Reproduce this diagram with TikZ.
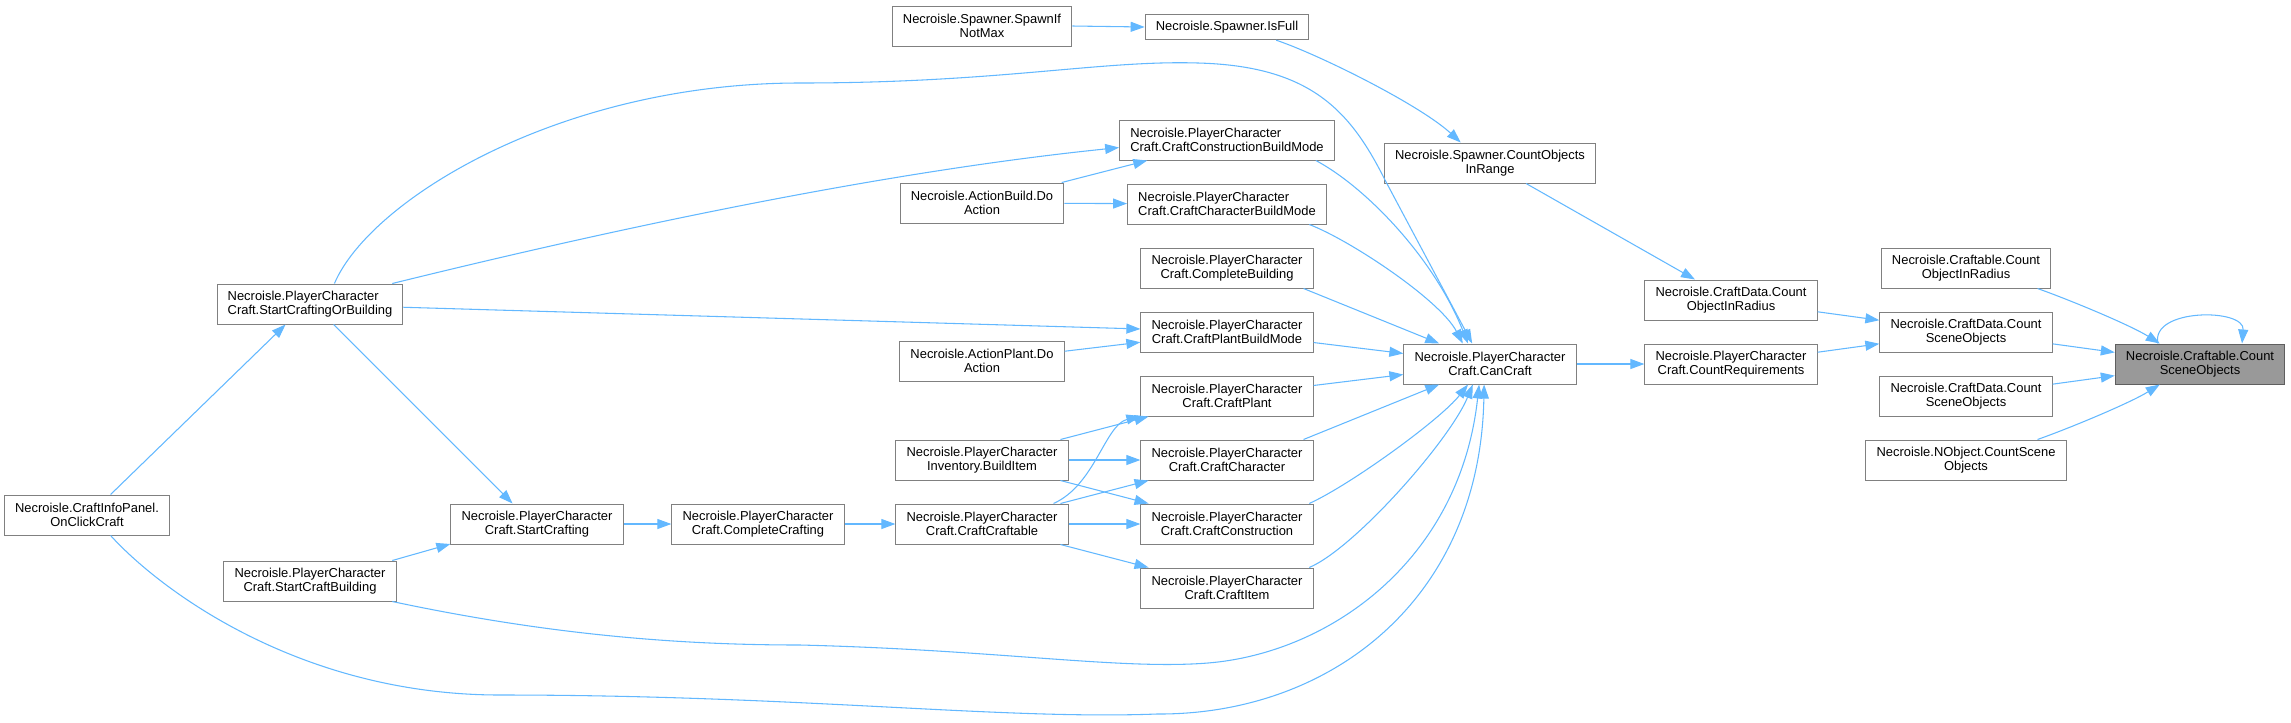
\documentclass[tikz,border=0pt]{standalone}
\usepackage{fontspec}
\setmainfont{Liberation Sans}
\usetikzlibrary{arrows.meta}
\definecolor{edgeblue}{HTML}{63B8FF}
\definecolor{nodegray}{HTML}{808080}
\definecolor{rootgray}{HTML}{5F5F5F}
\definecolor{rootfill}{HTML}{999999}

\begin{document}
\begin{tikzpicture}[
  x=0.75pt, y=-0.75pt,
  font=\fontsize{9.7}{11}\selectfont,
  fn/.style={draw=nodegray, fill=white, align=center, minimum height=30pt,
             inner xsep=8pt, inner ysep=2pt, line width=0.75pt},
  fnl/.style={fn, align=left},
  fnone/.style={fn, minimum height=19pt},
  fnroot/.style={fn, draw=rootgray, fill=rootfill},
  arr/.style={-{Triangle[length=10.5pt,width=7.5pt]}, draw=edgeblue, line width=0.8pt}]

\useasboundingbox (0,0) rectangle (2291,722);

% left part
\node[fn] (onClick) at (87,515) {Necroisle.CraftInfoPanel.\\OnClickCraft};
\node[fnl] (startCOB) at (310,304) {Necroisle.PlayerCharacter\\Craft.StartCraftingOrBuilding};
\node[fn] (startCB) at (310,581) {Necroisle.PlayerCharacter\\Craft.StartCraftBuilding};
\node[fn] (startCraft) at (537,524) {Necroisle.PlayerCharacter\\Craft.StartCrafting};
\node[fn] (compCraft) at (758,524) {Necroisle.PlayerCharacter\\Craft.CompleteCrafting};

% callers column
\node[fn] (spawnMax) at (982,26) {Necroisle.Spawner.SpawnIf\\NotMax};
\node[fn] (actBuild) at (982,203) {Necroisle.ActionBuild.Do\\Action};
\node[fn] (actPlant) at (982,361) {Necroisle.ActionPlant.Do\\Action};
\node[fn] (invBuild) at (982,460) {Necroisle.PlayerCharacter\\Inventory.BuildItem};
\node[fn] (craftCraftable) at (982,524) {Necroisle.PlayerCharacter\\Craft.CraftCraftable};

% craft column
\node[fnone] (isFull) at (1227,27) {Necroisle.Spawner.IsFull};
\node[fnl] (ccbm) at (1227,140) {Necroisle.PlayerCharacter\\Craft.CraftConstructionBuildMode};
\node[fnl] (charBM) at (1227,204) {Necroisle.PlayerCharacter\\Craft.CraftCharacterBuildMode};
\node[fn] (compBuild) at (1227,268) {Necroisle.PlayerCharacter\\Craft.CompleteBuilding};
\node[fn] (plantBM) at (1227,332) {Necroisle.PlayerCharacter\\Craft.CraftPlantBuildMode};
\node[fn] (craftPlant) at (1227,396) {Necroisle.PlayerCharacter\\Craft.CraftPlant};
\node[fn] (craftChar) at (1227,460) {Necroisle.PlayerCharacter\\Craft.CraftCharacter};
\node[fn] (craftCons) at (1227,524) {Necroisle.PlayerCharacter\\Craft.CraftConstruction};
\node[fn] (craftItem) at (1227,588) {Necroisle.PlayerCharacter\\Craft.CraftItem};

% right part
\node[fn] (countRange) at (1490,163) {Necroisle.Spawner.CountObjects\\InRange};
\node[fn] (canCraft) at (1490,364) {Necroisle.PlayerCharacter\\Craft.CanCraft};
\node[fn] (cdRadius) at (1731,300) {Necroisle.CraftData.Count\\ObjectInRadius};
\node[fn] (countReq) at (1731,364) {Necroisle.PlayerCharacter\\Craft.CountRequirements};
\node[fn] (cRadius) at (1966,268) {Necroisle.Craftable.Count\\ObjectInRadius};
\node[fn] (cdScene1) at (1966,332) {Necroisle.CraftData.Count\\SceneObjects};
\node[fn] (cdScene2) at (1966,396) {Necroisle.CraftData.Count\\SceneObjects};
\node[fn] (nobj) at (1966,460) {Necroisle.NObject.CountScene\\Objects};
\node[fnroot] (root) at (2200,364) {Necroisle.Craftable.Count\\SceneObjects};

% into the root
\draw[arr] (cRadius.-16) .. controls (2070,300) and (2130,325) .. (root.153);
\foreach \s in {cdScene1,cdScene2} \draw[arr] (\s) -- (root);
\draw[arr] (nobj.16) .. controls (2070,428) and (2130,403) .. (root.207);
\draw[arr] (root.154) .. controls (2150,308) and (2245,308) .. (root.26);
\foreach \s in {cdRadius,countReq} \draw[arr] (\s) -- (cdScene1);
\draw[arr] (canCraft) -- (countReq);
\draw[arr] (countRange) -- (cdRadius);

% spawner chain
\draw[arr] (spawnMax.east) -- (isFull.west);
\draw[arr] (isFull.-15) .. controls (1320,55) and (1420,105) .. (countRange.145);

% into CanCraft
\draw[arr] (ccbm.-13) .. controls (1364,186) and (1433,256) .. (canCraft.137);
\draw[arr] (charBM.-14) .. controls (1350,240) and (1440,300) .. (canCraft.143);
\draw[arr] (compBuild.-15) -- (canCraft.158);
\foreach \s in {plantBM,craftPlant} \draw[arr] (\s) -- (canCraft);
\draw[arr] (craftChar.15) -- (canCraft.202);
\draw[arr] (craftCons.14) .. controls (1350,485) and (1440,420) .. (canCraft.223);
\draw[arr] (craftItem.14) .. controls (1355,548) and (1450,440) .. (canCraft.230);
\draw[arr] (startCOB.40) .. controls (370,200) and (560,83) .. (800,83)
  .. controls (1000,83) and (1100,60) .. (1198,63)
  .. controls (1310,66) and (1350,110) .. (1385,180) -- (canCraft.131);
\draw[arr] (startCB.-14) .. controls (550,635) and (680,645) .. (800,645)
  .. controls (1000,650) and (1120,670) .. (1208,663)
  .. controls (1330,653) and (1460,560) .. (canCraft.242);
\draw[arr] (onClick.-41) .. controls (160,590) and (300,695) .. (500,695)
  .. controls (800,695) and (1000,720) .. (1157,714)
  .. controls (1330,715) and (1480,600) .. (canCraft.254);

% build modes
\draw[arr] (startCOB.14) .. controls (650,220) and (900,170) .. (ccbm.184);
\draw[arr] (startCOB.-2) -- (plantBM.178);
\draw[arr] (actBuild) -- (ccbm);
\draw[arr] (actBuild) -- (charBM);
\draw[arr] (actPlant) -- (plantBM);

% crafting chain
\draw[arr] (onClick.41) -- (startCOB.220);
\draw[arr] (startCOB.-41) -- (startCraft.140);
\draw[arr] (startCB.14) -- (startCraft.193);
\draw[arr] (startCraft.east) -- (compCraft.west);
\draw[arr] (compCraft.east) -- (craftCraftable.west);
\foreach \t in {craftPlant,craftChar,craftCons} \draw[arr] (invBuild) -- (\t);
\draw[arr] (craftCraftable.16) .. controls (1095,485) and (1105,425) .. (craftPlant.193);
\foreach \t in {craftChar,craftCons,craftItem} \draw[arr] (craftCraftable) -- (\t);
\end{tikzpicture}
\end{document}
